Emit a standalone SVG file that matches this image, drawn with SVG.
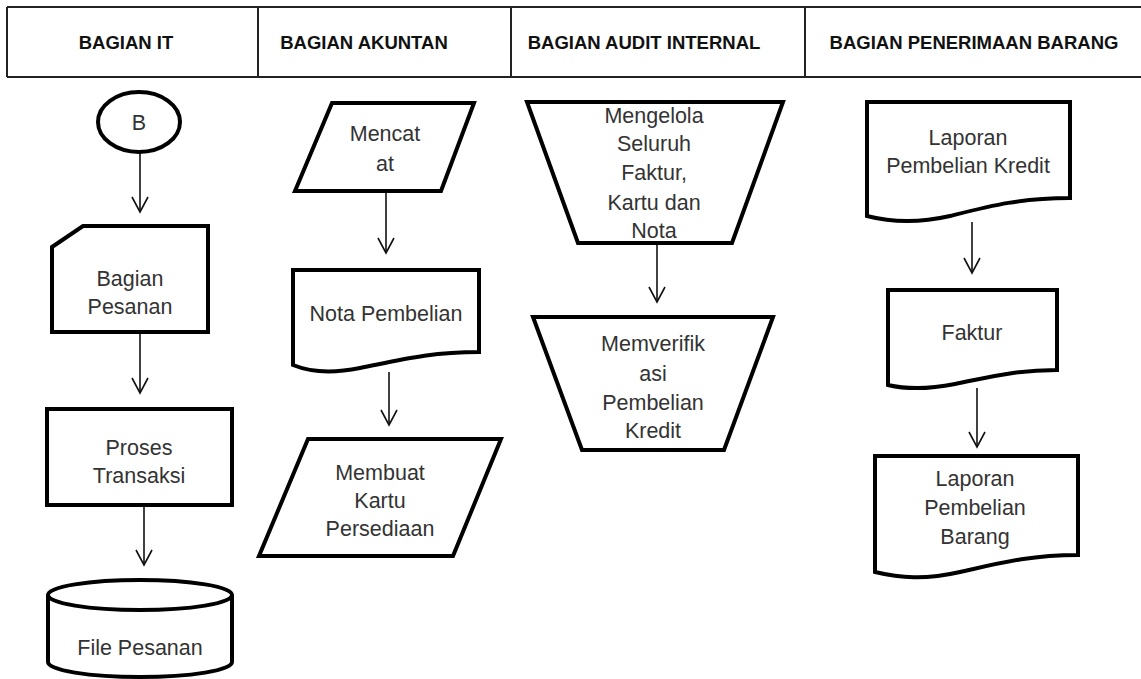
<svg xmlns="http://www.w3.org/2000/svg" width="1141" height="679" viewBox="0 0 1141 679">
<style>
.hd{font-family:"Liberation Sans",Arial,sans-serif;font-weight:bold;font-size:18.5px;fill:#111;text-anchor:middle}
.hl{stroke:#222;stroke-width:2;fill:none}
.sh{fill:#fff;stroke:#000;stroke-width:4;stroke-linejoin:miter}
.tx{font-family:"Liberation Sans",Arial,sans-serif;font-size:21.5px;fill:#333;text-anchor:middle}
.cn{stroke:#111;stroke-width:1.6;fill:none;marker-end:url(#ah)}
</style>
<defs>
<marker id="ah" markerUnits="userSpaceOnUse" viewBox="-16 -10 18 20" refX="0" refY="0" markerWidth="18" markerHeight="20" orient="auto">
<path d="M-15,-8 L0,0 L-15,8" fill="none" stroke="#111" stroke-width="1.6"/>
</marker>
</defs>
<rect width="1141" height="679" fill="#fff"/>
<g id="header">
<path class="hl" d="M7,7 H1141 M7,77 H1141 M7,7 V77 M258,7 V77 M511,7 V77 M805,7 V77"/>
<text class="hd" x="126" y="49">BAGIAN IT</text>
<text class="hd" x="364" y="49">BAGIAN AKUNTAN</text>
<text class="hd" x="644" y="49">BAGIAN AUDIT INTERNAL</text>
<text class="hd" x="974" y="49">BAGIAN PENERIMAAN BARANG</text>
</g>
<g id="connectors">
<path class="cn" d="M140,152 V212"/>
<path class="cn" d="M140,332 V393"/>
<path class="cn" d="M144,505 V565"/>
<path class="cn" d="M386,191 V253"/>
<path class="cn" d="M389,372 V425"/>
<path class="cn" d="M657,243 V302"/>
<path class="cn" d="M972,222 V273"/>
<path class="cn" d="M977,388 V447"/>
</g>
<g id="n-b">
<ellipse class="sh" cx="139" cy="122" rx="41" ry="30"/>
<text class="tx" x="139" y="130">B</text>
</g>
<g id="n-bagian-pesanan">
<path class="sh" d="M52,247 L83,226 H208 V332 H52 Z"/>
<text class="tx" x="130" y="286">Bagian</text>
<text class="tx" x="130" y="314">Pesanan</text>
</g>
<g id="n-proses-transaksi">
<rect class="sh" x="47" y="409" width="185" height="96"/>
<text class="tx" x="139" y="455">Proses</text>
<text class="tx" x="139" y="483">Transaksi</text>
</g>
<g id="n-file-pesanan">
<path class="sh" d="M48,595 V662 A92,15 0 0 0 232,662 V595"/>
<ellipse class="sh" cx="140" cy="595" rx="92" ry="15"/>
<text class="tx" x="140" y="655">File Pesanan</text>
</g>
<g id="n-mencatat">
<path class="sh" d="M332,103 H474 L441,191 H295 Z"/>
<text class="tx" x="385" y="141">Mencat</text>
<text class="tx" x="385" y="171">at</text>
</g>
<g id="n-nota-pembelian">
<path class="sh" d="M293,270 H479 V352 C430,352 400,360 360,368 C330,374 310,372 293,365 Z"/>
<text class="tx" x="386" y="321">Nota Pembelian</text>
</g>
<g id="n-membuat-kartu">
<path class="sh" d="M308,439 H501 L453,556 H259 Z"/>
<text class="tx" x="380" y="480">Membuat</text>
<text class="tx" x="380" y="508">Kartu</text>
<text class="tx" x="380" y="536">Persediaan</text>
</g>
<g id="n-mengelola">
<path class="sh" d="M527,102 H783 L732,243 H578 Z"/>
<text class="tx" x="654" y="123">Mengelola</text>
<text class="tx" x="654" y="151">Seluruh</text>
<text class="tx" x="654" y="180">Faktur,</text>
<text class="tx" x="654" y="210">Kartu dan</text>
<text class="tx" x="654" y="238">Nota</text>
</g>
<g id="n-memverifikasi">
<path class="sh" d="M533,317 H773 L724,450 H582 Z"/>
<text class="tx" x="653" y="351">Memverifik</text>
<text class="tx" x="653" y="381">asi</text>
<text class="tx" x="653" y="410">Pembelian</text>
<text class="tx" x="653" y="438">Kredit</text>
</g>
<g id="n-laporan-kredit">
<path class="sh" d="M867,102 H1070 V198 C1020,198 990,206 950,216 C915,224 890,222 867,216 Z"/>
<text class="tx" x="968" y="145">Laporan</text>
<text class="tx" x="968" y="173">Pembelian Kredit</text>
</g>
<g id="n-faktur">
<path class="sh" d="M888,290 H1057 V370 C1015,370 990,377 955,384 C925,390 905,389 888,385 Z"/>
<text class="tx" x="972" y="340">Faktur</text>
</g>
<g id="n-laporan-barang">
<path class="sh" d="M875,456 H1078 V555 C1030,555 1000,563 960,572 C925,580 900,578 875,572 Z"/>
<text class="tx" x="975" y="486">Laporan</text>
<text class="tx" x="975" y="515">Pembelian</text>
<text class="tx" x="975" y="544">Barang</text>
</g>
</svg>
